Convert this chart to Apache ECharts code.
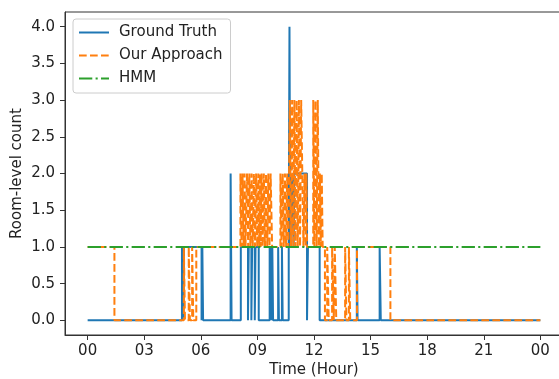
<!DOCTYPE html>
<html>
<head>
<meta charset="utf-8">
<script src="https://cdn.jsdelivr.net/npm/echarts@6/dist/echarts.min.js"></script>
<style>
  html, body { margin: 0; padding: 0; background: #fff; }
  #chart { width: 559px; height: 379px; }
</style>
</head>
<body>
<div id="chart"></div>
<script>
// [hour, count] change points, value held until the next point
const groundTruth = [
  [0, 0], [5.0, 1], [5.07, 0], [5.11, 1], [6.04, 0], [6.08, 1], [6.12, 0],
  [7.58, 2], [7.63, 0],
  [8.12, 1], [8.5, 0], [8.54, 1], [8.68, 0], [8.72, 1], [8.86, 0], [8.9, 1], [9.07, 0],
  [9.65, 1], [9.69, 0], [9.72, 1], [9.76, 0], [9.79, 1], [9.83, 0],
  [10.1, 1], [10.14, 0], [10.3, 1], [10.34, 0], [10.66, 1], [10.7, 4], [10.74, 1],
  [10.84, 2], [10.92, 1], [10.96, 2], [11.63, 0], [11.68, 1], [12.3, 0],
  [14.27, 1], [14.31, 0], [15.48, 1], [15.54, 0], [24, 0]
]

const ourApproach = [
  [0, 1], [1.42, 0],
  [5.1, 1], [5.16, 0], [5.36, 1], [5.42, 0], [5.54, 1], [5.6, 0], [5.76, 1],
  [8.1, 2], [8.16, 1], [8.21, 2], [8.27, 1], [8.32, 2], [8.37, 1],
  [8.45, 2], [8.51, 1], [8.57, 2], [8.63, 1], [8.69, 2], [8.75, 1], [8.81, 2], [8.87, 1],
  [8.93, 2], [8.99, 1], [9.05, 2], [9.1, 1], [9.14, 2], [9.17, 1],
  [9.22, 2], [9.28, 1], [9.34, 2], [9.4, 1], [9.46, 2], [9.52, 1], [9.58, 2], [9.64, 1], [9.7, 2], [9.78, 1],
  [10.22, 2], [10.28, 1], [10.34, 2], [10.4, 1], [10.46, 2], [10.52, 1], [10.58, 2], [10.64, 1], [10.68, 2],
  [10.72, 3], [10.78, 1], [10.84, 3], [10.9, 1], [10.96, 3], [11.02, 1], [11.08, 3], [11.14, 1],
  [11.2, 3], [11.26, 1], [11.32, 3], [11.38, 2], [11.44, 1], [11.5, 2], [11.56, 1], [11.6, 2], [11.63, 1],
  [11.96, 3], [12.02, 1], [12.08, 3], [12.14, 1], [12.2, 3], [12.26, 1], [12.31, 2], [12.36, 1], [12.41, 2], [12.46, 1],
  [12.58, 0], [12.7, 1], [12.78, 0], [12.96, 1], [13.05, 0], [13.1, 1], [13.18, 0],
  [13.65, 1], [13.72, 0], [13.85, 1], [13.92, 0], [14.28, 1], [16.05, 0], [24, 0]
]

const hmm = [[0, 1], [24, 1]]

const xTicks = [0, 3, 6, 9, 12, 15, 18, 21, 24]
const xTickLabels = ['00', '03', '06', '09', '12', '15', '18', '21', '00']
const yTicks = [0, 0.5, 1, 1.5, 2, 2.5, 3, 3.5, 4]

const FONT = 'DejaVu Sans'
const FS = 15
const TEXT = '#222'
const AXIS = '#333'

const chart = echarts.init(document.getElementById('chart'), null, { renderer: 'canvas' })

chart.setOption({
  animation: false,
  textStyle: { fontFamily: FONT },
  grid: {
    left: 65, right: -4, top: 12, bottom: 44,
    outerBoundsMode: 'none',
    show: true, borderColor: AXIS, borderWidth: 1, backgroundColor: 'transparent'
  },
  legend: {
    left: 73, top: 19,
    orient: 'vertical',
    data: ['Ground Truth', 'Our Approach', 'HMM'],
    itemWidth: 30, itemHeight: 14, itemGap: 8,
    padding: [6, 8, 7, 5],
    backgroundColor: 'rgba(255,255,255,0.8)',
    borderColor: '#ccc', borderWidth: 1, borderRadius: 3,
    itemStyle: { opacity: 0 },
    textStyle: { fontFamily: FONT, fontSize: FS, color: TEXT, padding: [0, 0, 0, 5] }
  },
  xAxis: {
    type: 'value',
    min: -1.2, max: 25.2,
    name: 'Time (Hour)',
    nameLocation: 'middle',
    nameGap: 28,
    nameMoveOverlap: false,
    nameTextStyle: { fontFamily: FONT, fontSize: FS, color: TEXT },
    axisLine: { onZero: false, lineStyle: { color: AXIS, width: 1 } },
    axisTick: { customValues: xTicks, length: 5, lineStyle: { color: AXIS } },
    axisLabel: {
      customValues: xTicks,
      fontFamily: FONT, fontSize: FS, color: TEXT, margin: 9,
      formatter: (v) => xTickLabels[xTicks.indexOf(v)]
    },
    splitLine: { show: false }
  },
  yAxis: {
    type: 'value',
    min: -0.2, max: 4.2,
    name: 'Room-level count',
    nameLocation: 'middle',
    nameGap: 40,
    nameMoveOverlap: false,
    nameTextStyle: { fontFamily: FONT, fontSize: FS, color: TEXT },
    axisLine: { show: true, onZero: false, lineStyle: { color: AXIS, width: 1 } },
    axisTick: { show: true, customValues: yTicks, length: 5, lineStyle: { color: AXIS } },
    axisLabel: {
      customValues: yTicks,
      fontFamily: FONT, fontSize: FS, color: TEXT, margin: 10,
      formatter: (v) => v.toFixed(1)
    },
    splitLine: { show: false }
  },
  series: [
    {
      name: 'Ground Truth', type: 'line', step: 'end',
      data: groundTruth, symbol: 'none',
      lineStyle: { color: '#1f77b4', width: 2 },
      itemStyle: { color: '#1f77b4' }
    },
    {
      name: 'Our Approach', type: 'line', step: 'end',
      data: ourApproach, symbol: 'none',
      lineStyle: { color: '#ff7f0e', width: 2, type: [7.7, 3.3] },
      itemStyle: { color: '#ff7f0e' }
    },
    {
      name: 'HMM', type: 'line', step: 'end',
      data: hmm, symbol: 'none',
      lineStyle: { color: '#2ca02c', width: 2, type: [13.3, 3.3, 2.1, 3.3] },
      itemStyle: { color: '#2ca02c' }
    }
  ]
})
</script>
</body>
</html>
